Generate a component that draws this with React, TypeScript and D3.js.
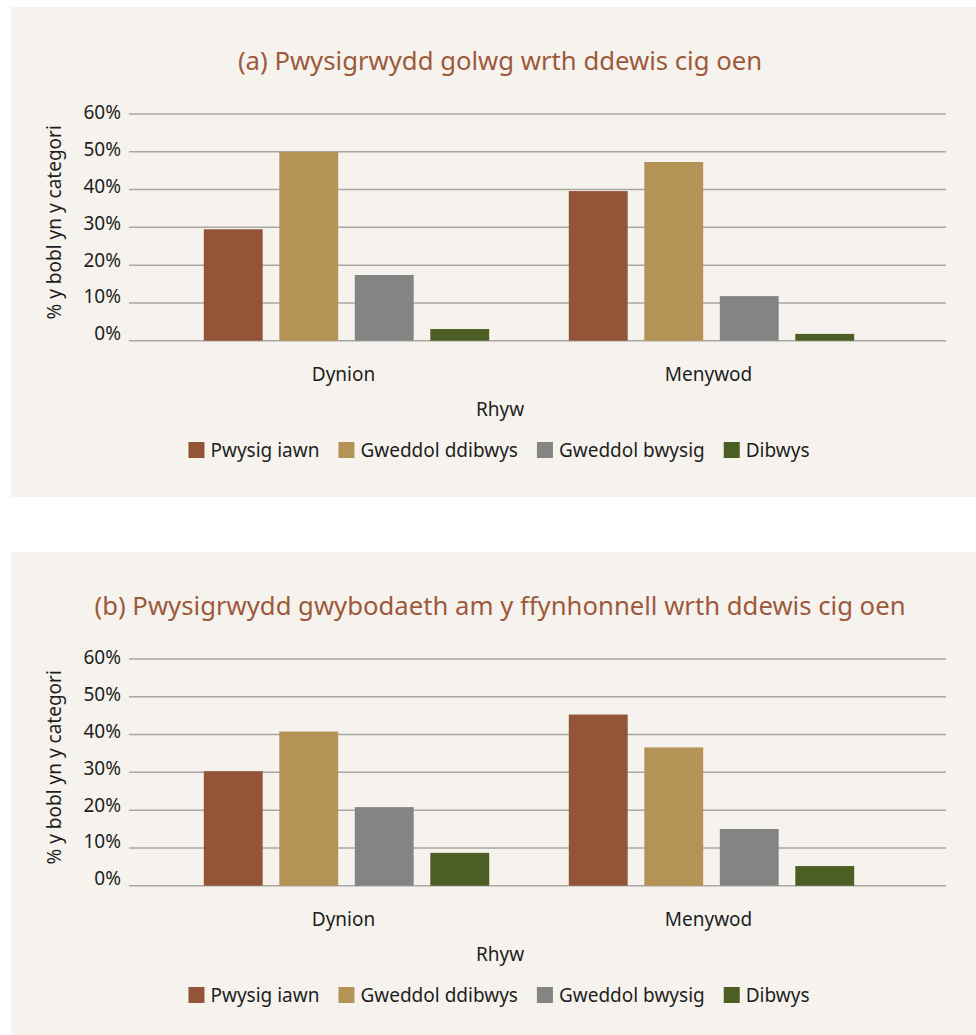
import React from "react";
import * as d3 from "d3";

const categories = ["Dynion", "Menywod"];
const seriesNames = ["Pwysig iawn", "Gweddol ddibwys", "Gweddol bwysig", "Dibwys"];
const seriesColors = ["#935538", "#b59256", "#848484", "#4d5e24"];
const valuesA = [
  [29.5, 50.0, 17.4, 3.1],
  [39.6, 47.3, 11.8, 1.8],
];
const valuesB = [
  [30.3, 40.8, 20.8, 8.7],
  [45.3, 36.6, 15.0, 5.2],
];
const yTicks = [0, 10, 20, 30, 40, 50, 60];
const titleA = "(a) Pwysigrwydd golwg wrth ddewis cig oen";
const titleB = "(b) Pwysigrwydd gwybodaeth am y ffynhonnell wrth ddewis cig oen";
const yAxisTitle = "% y bobl yn y categori";
const xAxisTitle = "Rhyw";

const FONT = "'Noto Sans', 'Open Sans', sans-serif";
const TEXT = "#1e1e1e";

function measure(text: string, size: number): number {
  const c = document.createElement("canvas").getContext("2d");
  if (!c) return text.length * size * 0.5;
  c.font = `${size}px 'Noto Sans'`;
  return c.measureText(text).width;
}

function Panel({ top, height, title, values }: { top: number; height: number; title: string; values: number[][] }) {
  const gridLeft = 129;
  const gridRight = 946;
  const y = d3.scaleLinear().domain([0, 60]).range([333.7, 107]);
  const labelY = d3.scaleLinear().domain([0, 60]).range([y(0) - 7, y(60) - 1.5]);
  const x0 = d3.scaleBand<string>().domain(categories).range([164, 894]).paddingInner(0).paddingOuter(0);
  const x1 = d3
    .scaleBand<string>()
    .domain(seriesNames)
    .range([-151, 151])
    .paddingInner(0.22)
    .paddingOuter(0.11);

  const legendSize = 19;
  const sq = 16;
  const gapSqText = 6;
  const gapItems = 19;
  const widths = seriesNames.map((s) => measure(s, legendSize));
  const totalW = widths.reduce((a, w) => a + sq + gapSqText + w, 0) + gapItems * (seriesNames.length - 1);
  let lx = 499 - totalW / 2;
  const legendItems = seriesNames.map((s, i) => {
    const item = { name: s, x: lx, color: seriesColors[i] };
    lx += sq + gapSqText + widths[i] + gapItems;
    return item;
  });
  const legendY = 443;

  return (
    <g transform={`translate(0,${top})`}>
      <rect x={11} y={0} width={965} height={height} fill="#f6f3ee" />
      <text x={500} y={63} textAnchor="middle" fontSize={25.7} fill="#9d5a3b" fontFamily={FONT}>
        {title}
      </text>
      {yTicks.map((t) => (
        <g key={t}>
          <line x1={gridLeft} x2={gridRight} y1={y(t)} y2={y(t)} stroke="#a9a7a4" strokeWidth={1.5} />
          <text x={121} y={labelY(t)} dy="0.35em" textAnchor="end" fontSize={19} fill={TEXT} fontFamily={FONT}>
            {`${t}%`}
          </text>
        </g>
      ))}
      {categories.map((c, ci) => (
        <g key={c} transform={`translate(${(x0(c) as number) + x0.bandwidth() / 2},0)`}>
          {seriesNames.map((s, si) => (
            <rect
              key={s}
              x={x1(s) as number}
              width={x1.bandwidth()}
              y={y(values[ci][si])}
              height={y(0) - y(values[ci][si])}
              fill={seriesColors[si]}
            />
          ))}
          <text x={-3} y={374} textAnchor="middle" fontSize={19} fill={TEXT} fontFamily={FONT}>
            {c}
          </text>
        </g>
      ))}
      <text x={500} y={408.7} textAnchor="middle" fontSize={19} fill={TEXT} fontFamily={FONT}>
        {xAxisTitle}
      </text>
      <text
        transform={`translate(61,${(y(0) + y(60)) / 2 - 5}) rotate(-90)`}
        textAnchor="middle"
        fontSize={19}
        fill={TEXT}
        fontFamily={FONT}
      >
        {yAxisTitle}
      </text>
      {legendItems.map((it) => (
        <g key={it.name}>
          <rect x={it.x} y={legendY - sq / 2} width={sq} height={sq} fill={it.color} />
          <text x={it.x + sq + gapSqText} y={legendY} dy="0.35em" fontSize={legendSize} fill={TEXT} fontFamily={FONT}>
            {it.name}
          </text>
        </g>
      ))}
    </g>
  );
}

export default function App() {
  return (
    <svg
      width={976}
      height={1035}
      style={{ position: "absolute", left: 0, top: 0, display: "block" }}
      xmlns="http://www.w3.org/2000/svg"
    >
      <rect x={0} y={0} width={976} height={1035} fill="#ffffff" />
      <Panel top={7} height={490} title={titleA} values={valuesA} />
      <Panel top={552} height={483} title={titleB} values={valuesB} />
    </svg>
  );
}
